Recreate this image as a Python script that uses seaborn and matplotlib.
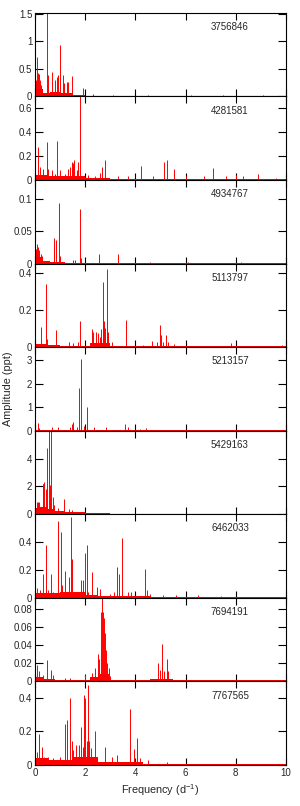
import matplotlib
matplotlib.use('Agg')
import matplotlib.pyplot as plt
import seaborn as sns
from matplotlib.ticker import StrMethodFormatter

stars = ['3756846', '4281581', '4934767', '5113797', '5213157',
         '5429163', '6462033', '7694191', '7767565']

# peak frequencies (d^-1) and amplitudes (ppt)
f_3756846 = [0.05, 0.09, 0.13, 0.17, 0.21, 0.25, 0.46, 0.53, 0.66, 0.8, 0.86, 0.93,
             1.0, 1.1, 1.17, 1.26, 1.3, 1.46, 1.89, 2.3, 3.1, 4.5, 6.2, 7.5, 9.1]
a_3756846 = [0.3, 0.71, 0.42, 0.4, 0.3, 0.2, 1.55, 0.39, 0.44, 0.3, 0.36, 0.39,
             0.93, 0.39, 0.24, 0.27, 0.27, 0.37, 0.16, 0.04, 0.03, 0.03, 0.025, 0.02, 0.02]
bgf_3756846 = [0, 0.3, 0.6, 1.0, 1.5, 2.0, 3.0, 10]
bga_3756846 = [0.13, 0.07, 0.08, 0.06, 0.03, 0.012, 0.008, 0.008]

f_4281581 = [0.13, 0.2, 0.33, 0.46, 0.53, 0.66, 0.8, 0.89, 1.0, 1.2, 1.3, 1.39, 1.46,
             1.5, 1.54, 1.66, 1.73, 1.81, 2.1, 2.4, 2.59, 2.67, 2.79, 3.3, 3.7, 4.22,
             4.7, 5.14, 5.26, 5.55, 6.0, 6.73, 7.08, 7.6, 8.0, 8.3, 8.9, 9.6]
a_4281581 = [0.28, 0.11, 0.09, 0.32, 0.09, 0.08, 0.05, 0.33, 0.08, 0.05, 0.09, 0.11, 0.15,
             0.14, 0.17, 0.08, 0.15, 0.75, 0.04, 0.03, 0.06, 0.11, 0.165, 0.03, 0.03, 0.12,
             0.03, 0.15, 0.17, 0.09, 0.03, 0.03, 0.1, 0.03, 0.04, 0.03, 0.05, 0.02]
bgf_4281581 = [0, 0.5, 1.0, 2.0, 3.0, 6.0, 10]
bga_4281581 = [0.045, 0.035, 0.03, 0.015, 0.01, 0.006, 0.006]

f_4934767 = [0.03, 0.09, 0.13, 0.17, 0.22, 0.27, 0.76, 0.77, 0.82, 0.94, 1.0, 1.53,
             1.59, 1.78, 1.82, 2.56, 3.32, 4.6, 6.1, 8.2]
a_4934767 = [0.022, 0.03, 0.026, 0.021, 0.015, 0.011, 0.025, 0.04, 0.036, 0.095, 0.011,
             0.006, 0.006, 0.085, 0.008, 0.015, 0.015, 0.002, 0.002, 0.002]
bgf_4934767 = [0, 0.3, 0.6, 1.2, 2, 10]
bga_4934767 = [0.01, 0.004, 0.003, 0.0015, 0.001, 0.001]

f_5113797 = [0.25, 0.42, 0.46, 0.85, 1.35, 1.5, 1.73, 1.81, 2.26, 2.32, 2.42, 2.51,
             2.59, 2.64, 2.7, 2.72, 2.76, 2.8, 2.85, 2.91, 3.05, 3.61, 4.3, 4.65, 4.85,
             4.97, 5.03, 5.11, 5.2, 5.28, 5.55, 6.4, 7.8, 9.86]
a_5113797 = [0.11, 0.34, 0.046, 0.09, 0.03, 0.02, 0.03, 0.14, 0.1, 0.083, 0.08, 0.074,
             0.056, 0.1, 0.35, 0.245, 0.14, 0.105, 0.42, 0.083, 0.03, 0.148, 0.01, 0.033,
             0.03, 0.12, 0.065, 0.03, 0.065, 0.03, 0.015, 0.008, 0.02, 0.01]
bgf_5113797 = [0, 0.5, 1, 2.2, 3.0, 4.5, 5.5, 10]
bga_5113797 = [0.015, 0.01, 0.008, 0.02, 0.008, 0.007, 0.004, 0.003]

f_5213157 = [0.13, 0.17, 0.66, 0.93, 1.39, 1.49, 1.53, 1.66, 1.74, 1.85, 1.93, 2.06,
             2.36, 2.83, 3.59, 3.72, 4.18, 4.42, 4.71]
a_5213157 = [0.31, 0.1, 0.14, 0.17, 0.14, 0.29, 0.36, 0.14, 1.81, 3.03, 0.21, 0.99,
             0.14, 0.14, 0.29, 0.14, 0.07, 0.1, 0.04]
bgf_5213157 = [0, 1.5, 2.2, 4.5, 10]
bga_5213157 = [0.03, 0.045, 0.025, 0.012, 0.01]

f_5429163 = [0.07, 0.12, 0.17, 0.3, 0.33, 0.36, 0.42, 0.48, 0.55, 0.6, 0.64, 0.7,
             0.76, 0.93, 1.17, 1.37, 1.46, 1.66, 2.2]
a_5429163 = [0.9, 0.85, 0.9, 2.2, 2.2, 2.3, 1.8, 4.75, 6.2, 2.1, 6.2, 1.25,
             0.66, 0.42, 1.06, 0.35, 0.3, 0.19, 0.12]
bgf_5429163 = [0, 0.2, 0.5, 0.8, 1.2, 2, 3, 10]
bga_5429163 = [0.45, 0.5, 0.35, 0.25, 0.15, 0.07, 0.035, 0.035]

f_6462033 = [0.07, 0.2, 0.3, 0.45, 0.53, 0.64, 0.73, 0.93, 1.04, 1.09, 1.2, 1.28,
             1.37, 1.43, 1.46, 1.55, 1.83, 1.9, 1.99, 2.06, 2.12, 2.27, 2.46, 2.59,
             2.99, 3.15, 3.25, 3.36, 3.45, 3.72, 3.82, 4.38, 4.45, 4.6, 5.1, 5.6, 6.5, 7.4]
a_6462033 = [0.07, 0.055, 0.17, 0.38, 0.055, 0.17, 0.04, 0.55, 0.47, 0.09, 0.19, 0.04,
             0.15, 0.58, 0.28, 0.04, 0.126, 0.126, 0.32, 0.376, 0.04, 0.186, 0.08, 0.06,
             0.03, 0.04, 0.22, 0.17, 0.43, 0.04, 0.045, 0.21, 0.055, 0.03, 0.02, 0.02, 0.02, 0.015]
bgf_6462033 = [0, 1, 2, 2.5, 4.6, 10]
bga_6462033 = [0.035, 0.04, 0.02, 0.012, 0.004, 0.004]

f_7694191 = [0.09, 0.16, 0.33, 0.49, 0.62, 0.73, 1.2, 1.4, 1.99, 2.26, 2.39, 2.5,
             2.56, 2.62, 2.66, 2.71, 2.75, 2.8, 2.84, 2.88, 2.93, 2.99, 4.91, 4.98,
             5.07, 5.15, 5.25, 5.3]
a_7694191 = [0.018, 0.011, 0.007, 0.024, 0.013, 0.007, 0.004, 0.004, 0.007, 0.009, 0.0145,
             0.03, 0.025, 0.076, 0.095, 0.076, 0.07, 0.053, 0.034, 0.02, 0.015, 0.006,
             0.02, 0.013, 0.041, 0.011, 0.025, 0.011]
bgf_7694191 = [0, 0.3, 0.8, 2.2, 2.5, 3.0, 4.6, 5.5, 10]
bga_7694191 = [0.005, 0.0025, 0.0015, 0.005, 0.008, 0.0015, 0.0025, 0.001, 0.001]

f_7767565 = [0.07, 0.16, 0.27, 0.36, 0.53, 0.73, 1.0, 1.18, 1.29, 1.39, 1.46, 1.53,
             1.62, 1.74, 1.83, 1.9, 1.95, 2.0, 2.06, 2.11, 2.16, 2.23, 2.4, 2.78, 3.05,
             3.25, 3.78, 3.96, 4.05, 4.18, 4.5, 5.25]
a_7767565 = [0.08, 0.186, 0.11, 0.05, 0.05, 0.04, 0.05, 0.246, 0.27, 0.4, 0.14, 0.09,
             0.12, 0.12, 0.228, 0.11, 0.42, 0.4, 0.14, 0.48, 0.14, 0.1, 0.2, 0.107, 0.05,
             0.06, 0.333, 0.097, 0.158, 0.04, 0.03, 0.02]
bgf_7767565 = [0, 0.5, 1.5, 2.5, 4.3, 5.5, 10]
bga_7767565 = [0.04, 0.03, 0.045, 0.02, 0.008, 0.004, 0.004]

peak_f = [f_3756846, f_4281581, f_4934767, f_5113797, f_5213157,
          f_5429163, f_6462033, f_7694191, f_7767565]
peak_a = [a_3756846, a_4281581, a_4934767, a_5113797, a_5213157,
          a_5429163, a_6462033, a_7694191, a_7767565]
bg_f = [bgf_3756846, bgf_4281581, bgf_4934767, bgf_5113797, bgf_5213157,
        bgf_5429163, bgf_6462033, bgf_7694191, bgf_7767565]
bg_a = [bga_3756846, bga_4281581, bga_4934767, bga_5113797, bga_5213157,
        bga_5429163, bga_6462033, bga_7694191, bga_7767565]

ymax = [1.52, 0.7, 0.13, 0.45, 3.55, 6.0, 0.6, 0.092, 0.5]
yticks = [[0, 0.5, 1, 1.5], [0, 0.2, 0.4, 0.6], [0, 0.05, 0.1], [0, 0.2, 0.4],
          [0, 1, 2, 3], [0, 2, 4], [0, 0.2, 0.4], [0, 0.02, 0.04, 0.06, 0.08],
          [0, 0.2, 0.4]]

sns.set_theme(style='ticks')
plt.rcParams['font.family'] = ['Liberation Sans', 'DejaVu Sans']
plt.rcParams['mathtext.default'] = 'regular'

fig, axes = plt.subplots(9, 1, figsize=(3, 8.06), dpi=100, sharex=True)
fig.subplots_adjust(left=0.117, right=0.953, top=0.984, bottom=0.051, hspace=0)

for i, ax in enumerate(axes):
    ax.fill_between(bg_f[i], bg_a[i], step='post', color='red', lw=0)
    ax.vlines(peak_f[i], 0, peak_a[i], color='red', lw=0.7)
    ax.set_xlim(0, 10)
    ax.set_ylim(0, ymax[i])
    ax.set_yticks(yticks[i])
    ax.set_xticks([0, 2, 4, 6, 8, 10])
    ax.yaxis.set_major_formatter(StrMethodFormatter('{x:g}'))
    ax.tick_params(axis='both', direction='in', top=True, right=True,
                   width=0.8, color='black', labelsize=7, pad=2)
    ax.tick_params(axis='y', length=6)
    ax.tick_params(axis='x', length=5)
    for s in ax.spines.values():
        s.set_color('black')
        s.set_linewidth(0.8)
    ax.text(7.77, 0.83, stars[i], transform=ax.get_xaxis_transform(),
            ha='center', va='center', fontsize=7)

axes[-1].set_xlabel('Frequency (d$^{-1}$)', fontsize=7.8, labelpad=3)
fig.text(0.027, 0.5175, 'Amplitude (ppt)', rotation=90, ha='center', va='center', fontsize=7.8)

fig.savefig('out.png', dpi=100)
